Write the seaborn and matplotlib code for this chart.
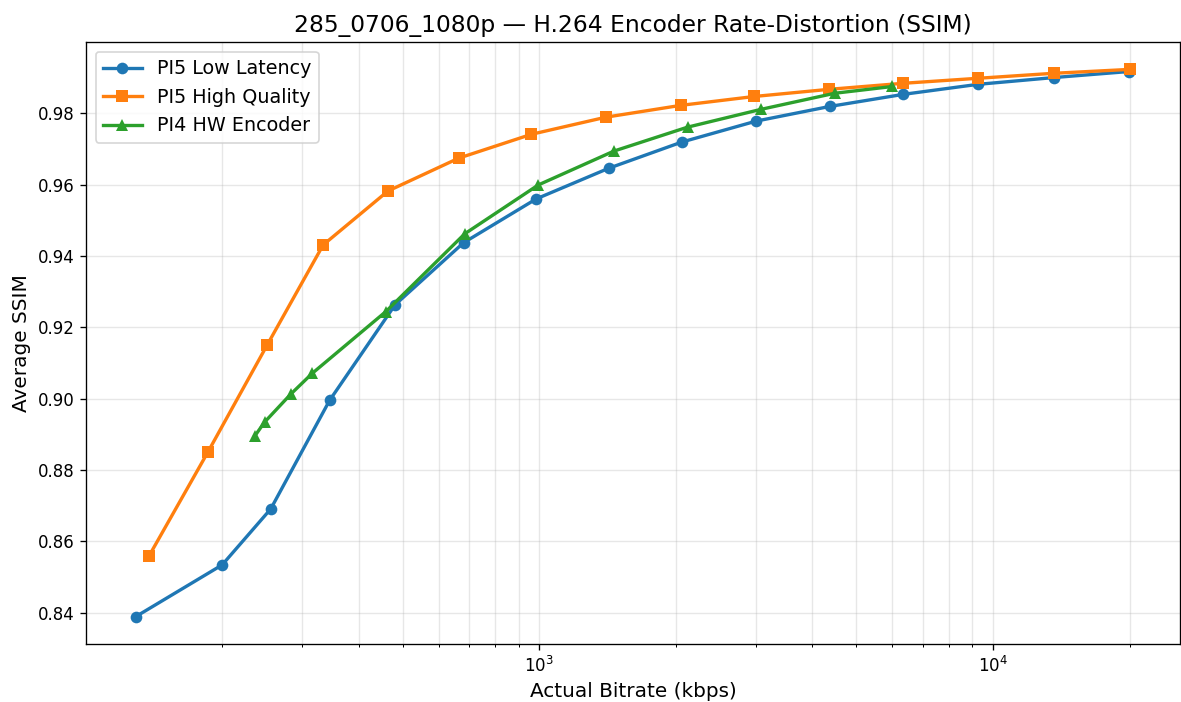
import matplotlib
matplotlib.use("Agg")
import matplotlib.pyplot as plt
import seaborn as sns

# Bitrate (kbps) and average SSIM
pi5_ll_bitrate = [129, 200, 256, 345, 481, 681, 985, 1424, 2059, 3007, 4365, 6348, 9265, 13608, 19953]
pi5_ll_ssim = [0.8389, 0.8534, 0.8691, 0.8995, 0.9263, 0.9437, 0.9560, 0.9646, 0.9719, 0.9778,
               0.9819, 0.9853, 0.9881, 0.9900, 0.9917]

pi5_hq_bitrate = [138, 186, 251, 334, 464, 664, 961, 1403, 2048, 2977, 4347, 6348, 9265, 13608, 20072]
pi5_hq_ssim = [0.8559, 0.8850, 0.9149, 0.9431, 0.9582, 0.9674, 0.9741, 0.9789, 0.9822, 0.9847,
               0.9867, 0.9884, 0.9898, 0.9912, 0.9923]

pi4_hw_bitrate = [236, 248, 283, 316, 459, 685, 995, 1461, 2122, 3083, 4478, 6003]
pi4_hw_ssim = [0.8895, 0.8934, 0.9012, 0.9071, 0.9244, 0.9462, 0.9599, 0.9694, 0.9761, 0.9811,
               0.9856, 0.9875]

series = [
    ("PI5 Low Latency", pi5_ll_bitrate, pi5_ll_ssim, "o", "#1f77b4"),
    ("PI5 High Quality", pi5_hq_bitrate, pi5_hq_ssim, "s", "#ff7f0e"),
    ("PI4 HW Encoder", pi4_hw_bitrate, pi4_hw_ssim, "^", "#2ca02c"),
]

fig, ax = plt.subplots(figsize=(1181 / 120, 702 / 120), dpi=120)

for name, x, y, marker, color in series:
    sns.lineplot(x=x, y=y, ax=ax, label=name, marker=marker, color=color,
                 linewidth=2, markersize=7, markeredgewidth=0, sort=False)

ax.set_xscale("log")
ax.grid(True, which="both", alpha=0.3)
ax.set_title("285_0706_1080p — H.264 Encoder Rate-Distortion (SSIM)", fontsize=14)
ax.set_xlabel("Actual Bitrate (kbps)", fontsize=12)
ax.set_ylabel("Average SSIM", fontsize=12)
ax.tick_params(labelsize=10)
ax.legend(fontsize=11.5, loc="upper left")

fig.subplots_adjust(left=86 / 1181, right=1180 / 1181, top=1 - 42 / 702, bottom=1 - 644 / 702)
plt.savefig("out.png", dpi=120)
plt.close()
